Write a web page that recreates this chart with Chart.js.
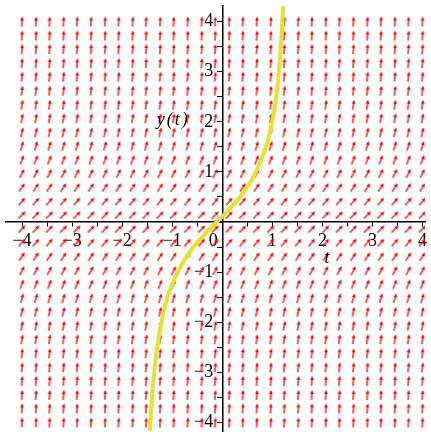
<!DOCTYPE html>
<html lang="en">
<head>
<meta charset="UTF-8">
<title>Direction field y(t)</title>
<script src="https://cdn.jsdelivr.net/npm/chart.js"></script>
<style>
  html, body { margin: 0; padding: 0; background: #fff; }
  #chart { display: block; }
</style>
</head>
<body>
<canvas id="chart" width="431" height="437"></canvas>
<script>
// arrow grid of the direction field
const fieldT = [-4, -3.72, -3.45, -3.17, -2.9, -2.62, -2.34, -2.07, -1.79, -1.52, -1.24, -0.97, -0.69, -0.41, -0.14,
                0.14, 0.41, 0.69, 0.97, 1.24, 1.52, 1.79, 2.07, 2.34, 2.62, 2.9, 3.17, 3.45, 3.72, 4];
const fieldY = [-4, -3.72, -3.45, -3.17, -2.9, -2.62, -2.34, -2.07, -1.79, -1.52, -1.24, -0.97, -0.69, -0.41, -0.14,
                0.14, 0.41, 0.69, 0.97, 1.24, 1.52, 1.79, 2.07, 2.34, 2.62, 2.9, 3.17, 3.45, 3.72, 4];
// arrow angle (degrees above horizontal) for every row, bottom to top
const rowAngle = [86.6, 86.1, 85.6, 84.8, 83.9, 82.7, 81.2, 79.3, 76.6, 73.2, 68.5, 62.7, 56.0, 49.5, 45.6,
                  45.6, 49.5, 56.0, 62.7, 68.5, 73.2, 76.6, 79.3, 81.2, 82.7, 83.9, 84.8, 85.6, 86.1, 86.6];

// yellow solution curve
const curveT = [-1.45, -1.43, -1.40, -1.35, -1.30, -1.20, -1.10, -1.00, -0.80, -0.60, -0.40, -0.20, 0.00,
                0.20, 0.40, 0.60, 0.80, 0.90, 1.00, 1.08, 1.15, 1.20, 1.23];
const curveY = [-4.26, -3.90, -3.47, -2.91, -2.50, -1.92, -1.52, -1.24, -0.83, -0.53, -0.30, -0.09, 0.11,
                0.32, 0.56, 0.86, 1.29, 1.59, 2.01, 2.50, 3.20, 4.00, 4.50];

// axes
const tRange = [-4.32, 4.05];
const yRange = [-4.17, 4.31];
const tickValues = [-4, -3, -2, -1, 0, 1, 2, 3, 4];
const xTickLabels = ['\u22124', '\u22123', '\u22122', '\u22121', '0\u2003', '1', '2', '3', '4'];
const yTickLabels = ['\u22124\u2002', '\u22123\u2002', '\u22122\u2002', '\u22121\u2002', '', '1\u2002', '2\u2002', '3\u2002', '4\u2002'];

const serif = "'Liberation Serif', 'DejaVu Serif', serif";

// small red arrow pointing up, rotated per point
function makeArrow() {
  const c = document.createElement('canvas');
  c.width = 12; c.height = 12;
  const g = c.getContext('2d');
  g.strokeStyle = '#ff0000';
  g.fillStyle = '#ff0000';
  g.lineWidth = 1.3;
  g.beginPath(); g.moveTo(6, 11); g.lineTo(6, 3.5); g.stroke();
  g.beginPath(); g.moveTo(6, 1); g.lineTo(7.9, 5); g.lineTo(4.1, 5); g.closePath(); g.fill();
  return c;
}
const arrow = makeArrow();

const fieldPts = [];
const fieldRot = [];
for (let j = 0; j < fieldY.length; j++) {
  for (let i = 0; i < fieldT.length; i++) {
    fieldPts.push({ x: fieldT[i], y: fieldY[j] });
    fieldRot.push(90 - rowAngle[j]);
  }
}
const curvePts = curveT.map((t, i) => ({ x: t, y: curveY[i] }));

function tickLabel(v, labels) {
  if (Math.abs(v - Math.round(v)) > 1e-6) return '';
  const k = tickValues.indexOf(Math.round(v));
  return k < 0 ? '' : labels[k];
}

// axes sit on the plot, so they take no room and no edge padding
function noRoom(s) {
  if (s.isHorizontal()) s.height = 0; else s.width = 0;
  s.paddingLeft = s.paddingRight = s.paddingTop = s.paddingBottom = 0;
}

// axis names placed inside the plot
const axisNames = {
  id: 'axisNames',
  afterDatasetsDraw(chart) {
    const ctx = chart.ctx, sx = chart.scales.x, sy = chart.scales.y;
    ctx.save();
    ctx.fillStyle = '#000';
    ctx.font = 'italic 18px ' + serif;
    ctx.textAlign = 'center';
    ctx.textBaseline = 'middle';
    ctx.fillText('t', sx.getPixelForValue(2.09), sy.getPixelForValue(-0.72));
    ctx.letterSpacing = '2px';
    ctx.fillText('y(t)', sx.getPixelForValue(-0.98), sy.getPixelForValue(2.04));
    ctx.restore();
  }
};

new Chart(document.getElementById('chart'), {
  type: 'scatter',
  data: {
    datasets: [
      {
        type: 'line',
        data: curvePts,
        borderColor: '#e6e232',
        borderWidth: 4,
        pointRadius: 0,
        cubicInterpolationMode: 'monotone',
        order: 0
      },
      {
        data: fieldPts,
        pointStyle: arrow,
        pointRadius: 5,
        pointRotation: ctx => fieldRot[ctx.dataIndex],
        order: 1
      }
    ]
  },
  options: {
    responsive: false,
    animation: false,
    events: [],
    layout: { padding: 0 },
    plugins: { legend: { display: false }, tooltip: { enabled: false } },
    scales: {
      x: {
        type: 'linear', min: tRange[0], max: tRange[1],
        position: { y: 0 },
        afterFit: noRoom,
        grid: { drawOnChartArea: false, tickLength: 4, color: '#000', lineWidth: 1 },
        border: { color: '#000', width: 1.5 },
        ticks: {
          stepSize: 0.5, includeBounds: false, autoSkip: false, maxRotation: 0,
          padding: 4, color: '#000', font: { family: serif, size: 18 },
          callback: v => tickLabel(v, xTickLabels)
        }
      },
      y: {
        type: 'linear', min: yRange[0], max: yRange[1],
        position: { x: 0 },
        afterFit: noRoom,
        grid: { drawOnChartArea: false, tickLength: 5, color: '#000', lineWidth: 1 },
        border: { color: '#000', width: 1.5 },
        ticks: {
          stepSize: 0.5, includeBounds: false, autoSkip: false,
          padding: 4, color: '#000', font: { family: serif, size: 18 },
          callback: v => tickLabel(v, yTickLabels)
        }
      }
    }
  },
  plugins: [axisNames]
});
</script>
</body>
</html>
